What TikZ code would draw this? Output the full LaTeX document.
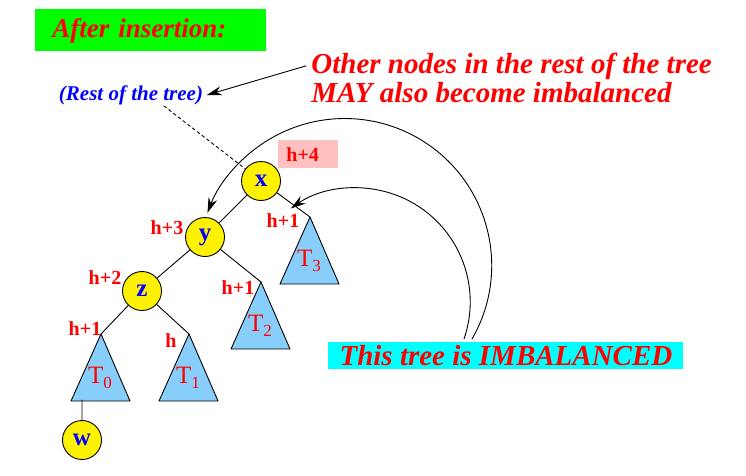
\documentclass[tikz,border=0pt]{standalone}
\usepackage{fontspec}
\setmainfont{Liberation Serif}
\usetikzlibrary{arrows.meta}
\definecolor{skyblue}{RGB}{135,206,250}
\definecolor{pinkish}{RGB}{255,192,192}
\definecolor{aqua}{RGB}{0,255,255}
\definecolor{lime}{RGB}{0,255,0}
\newcommand\tsub[1]{\raisebox{-0.45ex}{\fontsize{17}{17}\selectfont#1}}
\begin{document}
\begin{tikzpicture}[x=1pt, y=-1pt, line width=0.9pt, line join=round, line cap=round, >={Stealth[length=15pt,width=9pt]},
	knot/.style={circle, draw, fill=yellow, minimum size=39pt, inner sep=0pt, text=blue, font=\fontsize{25}{25}\selectfont\bfseries},
	hlab/.style={text=red, font=\fontsize{20}{20}\selectfont\bfseries},
	tlab/.style={text=red, font=\fontsize{25}{25}\selectfont},
	big/.style={text=red, inner sep=1pt, font=\fontsize{29}{30}\selectfont\bfseries\itshape},
	subtree/.style={draw, fill=skyblue}]
	\useasboundingbox (0,0) rectangle (746,475);
	\path
	(101,334) coordinate (A0)
	(189,334) coordinate (A1)
	(261,282) coordinate (A2)
	(310,217) coordinate (A3)
	(164,106) coordinate (D)
	(464,339) coordinate (S1)
	(472,339) coordinate (S2)
	;
	% subtrees
	\foreach \t in {0,...,3}{
		\draw[subtree] (A\t)--++(-30,67)--++(59,0)--cycle;
		\path (A\t)++(-1,44) node[tlab] (T\t) {T\tsub{\t}};
	}
	\node[knot] (x) at (261,181) {x};
	\node[knot] (y) at (205,237) {y};
	\node[knot] (z) at (142,291) {z};
	\node[knot] (w) at (82,440) {w};
	\draw (x)--(y) (y)--(z) (x)--(A3) (y)--(A2) (z)--(A0) (z)--(A1) (w.north)--++(0,-20);
	\foreach \l/\a/\b in {h+3/167/228, h+2/105/278, h+1/85/329, h/171/341, h+1/238/288, h+1/283/221}
		\node[hlab] (lab\a) at (\a,\b) {\l};
	\node[hlab, fill=pinkish, anchor=north west, minimum height=28pt, inner xsep=8pt, inner ysep=0pt, text width=44pt] (hx) at (278,140) {h+4};
	% texts
	\node[big, fill=lime, anchor=north west, minimum height=42pt, inner xsep=17pt, text width=197pt, font=\fontsize{27}{30}\selectfont\bfseries\itshape] (title) at (35,9) {After insertion:};
	\node[text=blue, font=\fontsize{21}{21}\selectfont\bfseries\itshape] (rest) at (131,95) {(Rest of the tree)};
	\node[big, anchor=base west] (oth1) at (310,73) {Other nodes in the rest of the tree};
	\node[big, anchor=base west] (oth2) at (310,102) {MAY also become imbalanced};
	\node[big, fill=aqua, anchor=north west, minimum height=27pt, minimum width=355pt, inner ysep=0pt] (imb) at (328,342) {This tree is IMBALANCED};
	\draw[->] ([xshift=-4pt]oth1.west) -- (rest.east);
	\draw[dashed] (D) -- (x);
	\draw[->] (S1) arc[start angle=19, end angle=-125, radius=114];
	\draw[->] (S2) arc[start angle=30, end angle=-159, radius=147];
\end{tikzpicture}
\end{document}
